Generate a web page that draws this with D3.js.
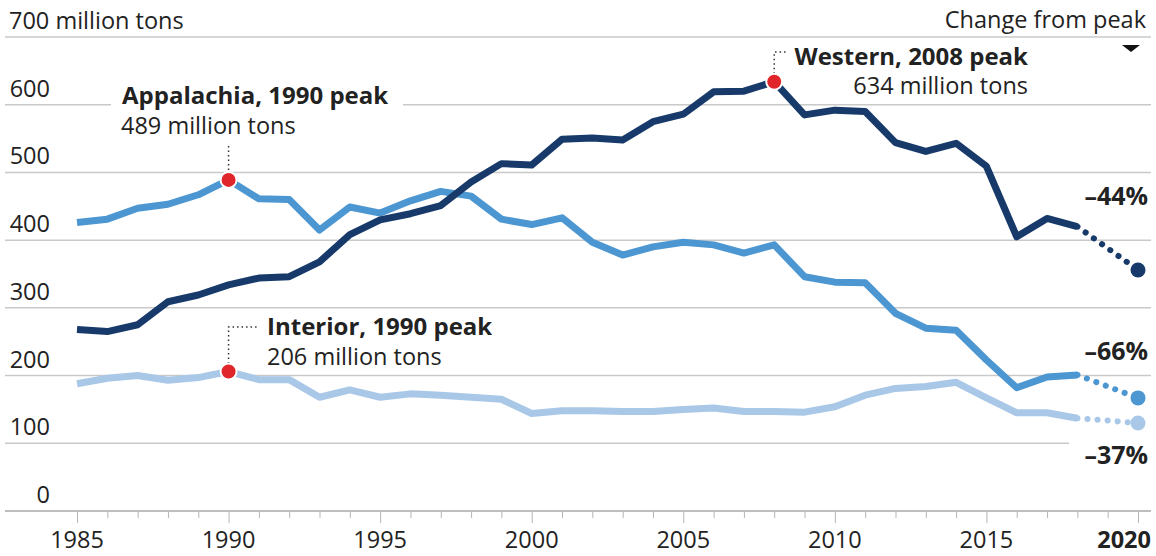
<!DOCTYPE html>
<html>
<head>
<meta charset="utf-8">
<script src="https://cdn.jsdelivr.net/npm/d3@7"></script>
<style>
  body { margin: 0; background: #fff; }
  text { font-family: "Open Sans", "Noto Sans", sans-serif; fill: #222; }
</style>
</head>
<body>
<svg></svg>
<script>
var width = 1156;
var height = 556;

// data, million tons
var years = [1985, 1986, 1987, 1988, 1989, 1990, 1991, 1992, 1993, 1994, 1995, 1996,
    1997, 1998, 1999, 2000, 2001, 2002, 2003, 2004, 2005, 2006, 2007, 2008, 2009,
    2010, 2011, 2012, 2013, 2014, 2015, 2016, 2017, 2018];
var western = [268, 265, 275, 309, 319, 334, 344, 346, 368, 408, 430, 439, 451, 486, 513,
    511, 549, 551, 548, 575, 586, 619, 620, 634, 585, 592, 590, 544, 531, 543, 509, 405, 432, 420];
var appalachia = [426, 431, 447, 453, 467, 489, 461, 460, 415, 449, 440, 458, 472, 465, 431,
    423, 433, 397, 378, 390, 397, 393, 381, 393, 346, 338, 337, 292, 270, 267, 223, 182, 198, 201];
var interior = [188, 196, 200, 193, 197, 206, 194, 194, 168, 179, 168, 173, 171, 168, 165,
    144, 148, 148, 147, 147, 150, 152, 147, 147, 146, 154, 171, 181, 184, 190, 167, 145, 145, 137];

var projYear = 2020;
var proj2020 = [356, 167, 130];          // western, appalachia, interior
var changes = ['–44%', '–66%', '–37%'];

var yTicks = [0, 100, 200, 300, 400, 500, 600, 700];
var xLabels = [1985, 1990, 1995, 2000, 2005, 2010, 2015, 2020];

var peaks = [
    { name: 'Appalachia, 1990 peak', sub: '489 million tons', year: 1990, value: 489 },
    { name: 'Western, 2008 peak', sub: '634 million tons', year: 2008, value: 634 },
    { name: 'Interior, 1990 peak', sub: '206 million tons', year: 1990, value: 206 }
];

var colors = ['#173a6a', '#4c97d2', '#a9c8e8'];

var fs = 23.5;   // regular text
var fb = 24;     // bold labels

//..................................................................................//

var svg = d3.select('svg')
    .attr('width', width)
    .attr('height', height);

var x = d3.scaleLinear().domain([1985, 2020]).range([77, 1138]);
var y = d3.scaleLinear().domain([0, 700]).range([511, 37]);

// gridlines
svg.append('g').selectAll('line')
    .data(yTicks.slice(1))
    .enter().append('line')
    .attr('x1', 5)
    .attr('x2', 1151)
    .attr('y1', function (d) { return y(d); })
    .attr('y2', function (d) { return y(d); })
    .attr('stroke', '#c9c9c9')
    .attr('stroke-width', 1.5);

// y labels
svg.append('g').selectAll('text')
    .data(yTicks)
    .enter().append('text')
    .attr('x', function (d) { return d == 700 ? 9 : 50; })
    .attr('y', function (d) { return y(d) - 8; })
    .attr('text-anchor', function (d) { return d == 700 ? 'start' : 'end'; })
    .attr('font-size', fs)
    .text(function (d) { return d == 700 ? '700 million tons' : d; });

svg.append('text')
    .attr('x', 1146)
    .attr('y', 28)
    .attr('text-anchor', 'end')
    .attr('font-size', fs)
    .text('Change from peak');

svg.append('path')
    .attr('d', 'M1122,45L1140,45L1131,52Z')
    .attr('fill', '#111');

// x axis
var xAxis = d3.axisBottom(x)
    .tickValues(d3.range(1985, 2021))
    .tickSize(7)
    .tickFormat('');

var gx = svg.append('g')
    .attr('transform', 'translate(0,' + y(0) + ')')
    .call(xAxis);
gx.select('.domain').remove();
gx.selectAll('.tick line')
    .attr('stroke', '#b5b5b5')
    .attr('y2', function (d) { return d % 5 == 0 ? 12 : 7; });

svg.append('line')
    .attr('x1', 5).attr('x2', 1151)
    .attr('y1', y(0)).attr('y2', y(0))
    .attr('stroke', '#bdbdbd')
    .attr('stroke-width', 2);

svg.append('g').selectAll('text')
    .data(xLabels)
    .enter().append('text')
    .attr('x', function (d) { return d == 2020 ? 1151 : x(d); })
    .attr('y', 548)
    .attr('text-anchor', function (d) { return d == 2020 ? 'end' : 'middle'; })
    .attr('font-size', fs)
    .attr('font-weight', function (d) { return d == 2020 ? 'bold' : 'normal'; })
    .text(function (d) { return d; });

//..................................................................................//

// white boxes behind labels that cut gridlines
svg.append('rect').attr('x', 111).attr('y', 84).attr('width', 292).attr('height', 54).attr('fill', '#fff');
svg.append('rect').attr('x', 1069).attr('y', 430).attr('width', 87).attr('height', 40).attr('fill', '#fff');

var series = [western, appalachia, interior];
var order = [2, 1, 0];

var line = d3.line()
    .x(function (d, i) { return x(years[i]); })
    .y(function (d) { return y(d); });

order.forEach(function (k) {
    var vals = series[k];
    var last = vals[vals.length - 1];

    svg.append('path')
        .datum(vals)
        .attr('d', line)
        .attr('fill', 'none')
        .attr('stroke', colors[k])
        .attr('stroke-width', 7)
        .attr('stroke-linejoin', 'round');

    // projected drop, dotted
    var dotted = d3.line().curve(d3.curveMonotoneX)
        .x(function (d) { return x(d[0]); })
        .y(function (d) { return y(d[1]); });

    svg.append('path')
        .datum([[2018, last], [projYear, proj2020[k]]])
        .attr('d', dotted)
        .attr('fill', 'none')
        .attr('stroke', colors[k])
        .attr('stroke-width', 6)
        .attr('stroke-linecap', 'round')
        .attr('stroke-dasharray', '0.1 10');

    svg.append('circle')
        .attr('cx', x(projYear))
        .attr('cy', y(proj2020[k]))
        .attr('r', 7.5)
        .attr('fill', colors[k]);
});

// change labels
var changeY = [205, 360, 464];
svg.append('g').selectAll('text')
    .data(changes)
    .enter().append('text')
    .attr('x', 1148)
    .attr('y', function (d, i) { return changeY[i]; })
    .attr('text-anchor', 'end')
    .attr('font-size', 25)
    .attr('font-weight', 'bold')
    .text(function (d) { return d; });

//..................................................................................//

// peak annotations
var dots = '1.5 3';

// Appalachia
svg.append('line')
    .attr('x1', x(1990)).attr('x2', x(1990))
    .attr('y1', 146).attr('y2', y(489) - 8)
    .attr('stroke', '#333').attr('stroke-width', 1.5).attr('stroke-dasharray', dots);
svg.append('text').attr('x', 122).attr('y', 104)
    .attr('font-size', fb).attr('font-weight', 'bold').text(peaks[0].name);
svg.append('text').attr('x', 121).attr('y', 134)
    .attr('font-size', fs).text(peaks[0].sub);

// Western
svg.append('path')
    .attr('d', 'M' + x(2008) + ',' + (y(634) - 8) + 'V52H786')
    .attr('fill', 'none')
    .attr('stroke', '#333').attr('stroke-width', 1.5).attr('stroke-dasharray', dots);
svg.append('text').attr('x', 1028).attr('y', 65).attr('text-anchor', 'end')
    .attr('font-size', fb).attr('font-weight', 'bold').text(peaks[1].name);
svg.append('text').attr('x', 1028).attr('y', 94).attr('text-anchor', 'end')
    .attr('font-size', fs).text(peaks[1].sub);

// Interior
svg.append('path')
    .attr('d', 'M' + x(1990) + ',' + (y(206) - 8) + 'V327H259')
    .attr('fill', 'none')
    .attr('stroke', '#333').attr('stroke-width', 1.5).attr('stroke-dasharray', dots);
svg.append('text').attr('x', 267).attr('y', 335)
    .attr('font-size', fb).attr('font-weight', 'bold').text(peaks[2].name);
svg.append('text').attr('x', 267).attr('y', 365)
    .attr('font-size', fs).text(peaks[2].sub);

svg.append('g').selectAll('circle')
    .data(peaks)
    .enter().append('circle')
    .attr('cx', function (d) { return x(d.year); })
    .attr('cy', function (d) { return y(d.value); })
    .attr('r', 8)
    .attr('fill', '#e0262a')
    .attr('stroke', '#fff')
    .attr('stroke-width', 2);
</script>
</body>
</html>
